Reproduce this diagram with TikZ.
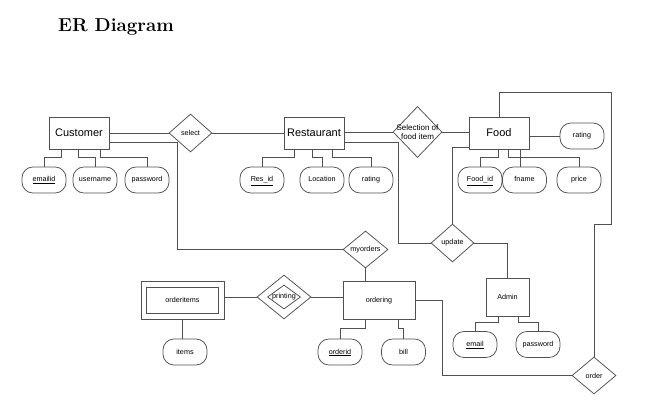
\documentclass[tikz,border=0pt]{standalone}
\usepackage{fontspec}
\newfontfamily\arialf{Liberation Sans}
\usetikzlibrary{shapes.geometric,calc}
\definecolor{linec}{RGB}{80,80,80}
\tikzset{
  conn/.style={draw=linec, line width=0.75pt},
  ent/.style={draw=linec, line width=0.75pt, rectangle, inner sep=0pt, text=black, font=\arialf\fontsize{11}{12}\selectfont, text height=8pt, text depth=0.5pt},
  sent/.style={draw=linec, line width=0.75pt, rectangle, inner sep=0pt, text=black, font=\arialf\fontsize{7.2}{8}\selectfont, text height=5.4pt, text depth=1.4pt},
  att/.style={draw=linec, line width=0.75pt, rectangle, rounded corners=11pt, minimum width=44pt, minimum height=26pt, inner sep=0pt, text=black, font=\arialf\fontsize{7.2}{8}\selectfont, text height=5.4pt, text depth=1.4pt},
  rel/.style={draw=linec, line width=0.75pt, diamond, inner sep=0pt},
  lbl/.style={text=black, font=\arialf\fontsize{7.2}{8}\selectfont, align=center, inner sep=0pt}
}
\begin{document}
\begin{tikzpicture}[x=1pt,y=-1pt]
\path[fill=white] (0,0) rectangle (657,412);
\useasboundingbox (0,0) rectangle (657,412);

\node[anchor=base west, font=\fontsize{18.7}{22}\selectfont\bfseries, inner sep=0pt] (title) at (58,32) {ER Diagram};

% entities
\node[ent, minimum width=60pt, minimum height=32pt] (customer) at (79,133) {Customer};
\node[ent, minimum width=60pt, minimum height=32pt] (restaurant) at (314,133) {Restaurant};
\node[ent, minimum width=60pt, minimum height=32pt] (food) at (499,133) {Food};
\node[sent, minimum width=72pt, minimum height=38pt] (ordering) at (379,300) {ordering};
\node[sent, minimum width=43pt, minimum height=38pt] (admin) at (507.5,297) {Admin};
\node[sent, minimum width=83pt, minimum height=38pt] (orderitems) at (182.5,300) {};
\node[sent, minimum width=72pt, minimum height=26pt] (orderitemsin) at (182.5,300) {orderitems};

% relationships
\node[rel, minimum width=43pt, minimum height=38pt, label={[lbl]center:select}] (select) at (190.5,133) {};
\node[rel, minimum width=49pt, minimum height=51pt, label={[lbl, font=\arialf\fontsize{8}{9.5}\selectfont]center:Selection of\\food item}] (selection) at (417.5,132) {};
\node[rel, minimum width=45pt, minimum height=37pt, label={[lbl]center:myorders}] (myorders) at (365.5,249.5) {};
\node[rel, minimum width=43pt, minimum height=38pt, label={[lbl]center:update}] (update) at (452.5,243) {};
\node[rel, minimum width=44pt, minimum height=37pt, label={[lbl]center:order}] (order) at (594,375.5) {};
\node[rel, minimum width=54pt, minimum height=44pt] (printing) at (284,297) {};
\node[rel, minimum width=33pt, minimum height=24pt, label={[lbl]center:printing}] (printingin) at (284,297) {};

% attributes
\node[att] (emailid) at (44,180) {\underline{emailid}};
\node[att] (username) at (95,180) {username};
\node[att] (password) at (147,180) {password};
\node[att] (resid) at (262,180) {\underline{Res\_id}};
\node[att] (location) at (322,180) {Location};
\node[att] (rrating) at (371,180) {rating};
\node[att] (foodid) at (480,180) {\underline{Food\_id}};
\node[att] (fname) at (524.5,180) {fname};
\node[att] (price) at (579,180) {price};
\node[att] (frating) at (582,136) {rating};
\node[att] (items) at (185,352) {items};
\node[att] (orderid) at (340,352) {\underline{orderid}};
\node[att] (bill) at (403.5,352) {bill};
\node[att] (email) at (475,344.5) {\underline{email}};
\node[att] (apass) at (538,344.5) {password};

% bend points
\coordinate (cm1) at (177,142);
\coordinate (cm2) at (177,249.5);
\coordinate (ru1) at (398,142);
\coordinate (fu1) at (452.5,147);
\coordinate (fo1) at (499,92);
\coordinate (fo2) at (611,92);
\coordinate (fo3) at (611,224);
\coordinate (fo4) at (594,224);
\coordinate (oo1) at (442,300);

% relationship connectors
\draw[conn] (customer.east) -- (select.west);
\draw[conn] (select.east) -- (restaurant.west);
\draw[conn] (customer.east |- cm1) -- (cm1) -- (cm2) -- (myorders.west);
\draw[conn] (restaurant.east |- selection.west) -- (selection.west);
\draw[conn] (selection.east) -- (selection.east -| food.west);
\draw[conn] (restaurant.east |- ru1) -- (ru1) |- (update.west);
\draw[conn] (food.west |- fu1) -- (fu1) -- (update.north);
\draw[conn] (food.east |- frating) -- (frating.west);
\draw[conn] (food.north) -- (fo1) -- (fo2) -- (fo3) -- (fo4) -- (order.north);
\draw[conn] (update.east) -| (admin.north);
\draw[conn] (ordering.east) -- (oo1) |- (order.west);
\draw[conn] (myorders.south) -- (myorders.south |- ordering.north);
\draw[conn] (printing.east) -- (printing.east -| ordering.west);
\draw[conn] (orderitems.east |- printing.west) -- (printing.west);
\draw[conn] (orderitems.south) -- (orderitems.south |- items.north);

% attribute connectors
\draw[conn] ($(customer.south west)+(13,0)$) |- ($(emailid.north)+(0,-9)$) -- (emailid.north);
\draw[conn] ($(customer.south west)+(30,0)$) |- ($(username.north)+(0,-9)$) -- (username.north);
\draw[conn] ($(customer.south west)+(52,0)$) |- ($(password.north)+(0,-9)$) -- (password.north);
\draw[conn] ($(restaurant.south west)+(11,0)$) |- ($(resid.north)+(0,-9)$) -- (resid.north);
\draw[conn] ($(restaurant.south west)+(29,0)$) |- ($(location.north)+(0,-9)$) -- (location.north);
\draw[conn] ($(restaurant.south west)+(49,0)$) |- ($(rrating.north)+(0,-9)$) -- (rrating.north);
\draw[conn] ($(food.south west)+(30,0)$) |- ($(foodid.north)+(0,-9)$) -- (foodid.north);
\draw[conn] ($(food.south west)+(40,0)$) |- ($(fname.north)+(-4.5,-9)$) -- ($(fname.north)+(-4.5,0)$);
\draw[conn] ($(food.south west)+(52,0)$) |- ($(price.north)+(0,-9)$) -- (price.north);
\draw[conn] ($(ordering.south west)+(23,0)$) |- ($(orderid.north)+(0,-10)$) -- (orderid.north);
\draw[conn] ($(ordering.south west)+(56,0)$) |- ($(bill.north)+(0,-10)$) -- (bill.north);
\draw[conn] ($(admin.south west)+(13,0)$) |- ($(email.north)+(0,-8.5)$) -- (email.north);
\draw[conn] ($(admin.south west)+(33,0)$) |- ($(apass.north)+(0,-8.5)$) -- (apass.north);
\end{tikzpicture}
\end{document}
